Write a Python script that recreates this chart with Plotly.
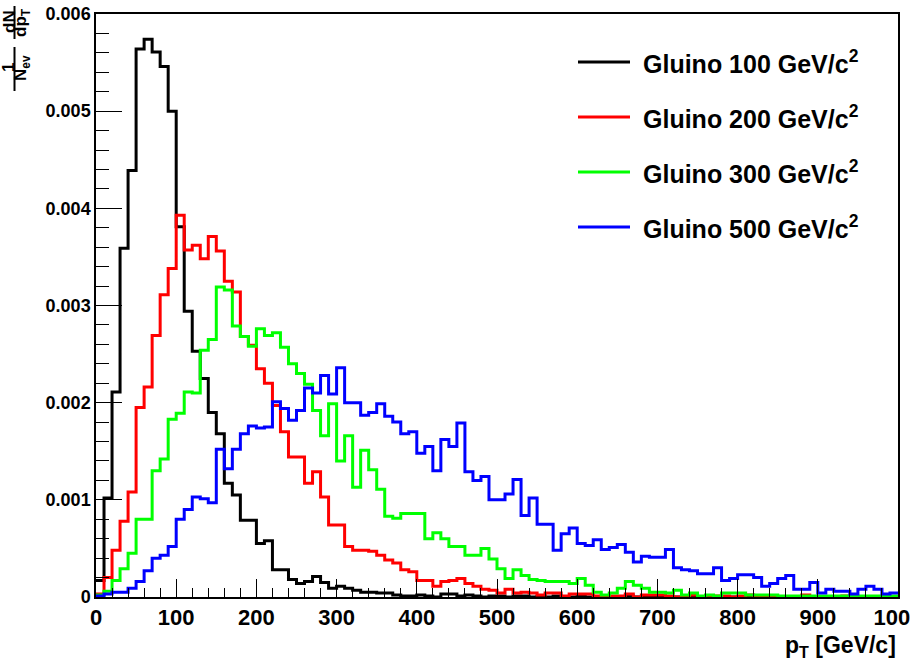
import numpy as np
import plotly.graph_objects as go

# 10 GeV/c bins from 0 to 1000 GeV/c
bin_edges = np.arange(0, 1001, 10)

# Normalised pT spectra, values in units of 1e-3 per bin
gluino_100 = [0.17, 1.02, 2.11, 3.59, 4.39, 5.64, 5.74, 5.61, 5.46, 5.00,
              3.81, 2.94, 2.53, 2.25, 1.90, 1.68, 1.17, 1.05, 0.79, 0.79,
              0.55, 0.58, 0.28, 0.28, 0.18, 0.14, 0.16, 0.21, 0.15, 0.09,
              0.11, 0.09, 0.07, 0.05, 0.05, 0.04, 0.04, 0.02, 0.01, 0.01,
              0.02, 0.01, 0.00, 0.03, 0.03, 0.01, 0.02, 0.01, 0.00, 0.01,
              0.01, 0.00, 0.01, 0.01, 0.00, 0.01, 0.00, 0.01, 0.00, 0.00,
              0.01, 0.00, 0.00, 0.01, 0.00, 0.00, 0.01, 0.00, 0.00, 0.00,
              0.01, 0.00, 0.00, 0.00, 0.00, 0.00, 0.00, 0.00, 0.00, 0.00,
              0.00, 0.00, 0.00, 0.00, 0.00, 0.00, 0.00, 0.00, 0.00, 0.00,
              0.00, 0.00, 0.00, 0.00, 0.00, 0.00, 0.00, 0.00, 0.00, 0.00]

gluino_200 = [0.03, 0.20, 0.48, 0.78, 1.08, 1.95, 2.16, 2.69, 3.11, 3.38,
              3.93, 3.57, 3.62, 3.48, 3.71, 3.56, 3.25, 3.14, 2.68, 2.59,
              2.35, 2.20, 1.97, 1.70, 1.44, 1.44, 1.17, 1.29, 1.03, 0.74,
              0.74, 0.52, 0.48, 0.48, 0.47, 0.43, 0.38, 0.35, 0.28, 0.26,
              0.17, 0.17, 0.11, 0.16, 0.17, 0.19, 0.14, 0.11, 0.08, 0.07,
              0.04, 0.08, 0.04, 0.05, 0.04, 0.02, 0.04, 0.04, 0.01, 0.03,
              0.03, 0.03, 0.01, 0.01, 0.01, 0.01, 0.03, 0.00, 0.02, 0.02,
              0.02, 0.01, 0.00, 0.01, 0.02, 0.00, 0.00, 0.01, 0.01, 0.00,
              0.01, 0.02, 0.01, 0.00, 0.01, 0.00, 0.00, 0.00, 0.02, 0.00,
              0.00, 0.00, 0.00, 0.01, 0.00, 0.00, 0.00, 0.00, 0.00, 0.00]

gluino_300 = [0.02, 0.06, 0.17, 0.29, 0.45, 0.80, 0.80, 1.30, 1.42, 1.83,
              1.89, 2.11, 2.10, 2.54, 2.65, 3.19, 3.16, 2.79, 2.68, 2.58,
              2.76, 2.69, 2.72, 2.57, 2.40, 2.30, 2.19, 1.92, 1.66, 1.99,
              1.40, 1.66, 1.13, 1.51, 1.31, 1.11, 0.83, 0.81, 0.86, 0.86,
              0.86, 0.60, 0.66, 0.60, 0.52, 0.52, 0.43, 0.43, 0.50, 0.39,
              0.29, 0.19, 0.28, 0.22, 0.18, 0.17, 0.16, 0.16, 0.16, 0.14,
              0.19, 0.12, 0.05, 0.02, 0.04, 0.09, 0.16, 0.12, 0.09, 0.05,
              0.05, 0.04, 0.07, 0.02, 0.04, 0.01, 0.02, 0.01, 0.04, 0.04,
              0.04, 0.02, 0.02, 0.02, 0.02, 0.01, 0.01, 0.01, 0.01, 0.01,
              0.01, 0.01, 0.01, 0.01, 0.01, 0.01, 0.01, 0.01, 0.01, 0.01]

gluino_500 = [0.01, 0.03, 0.05, 0.05, 0.09, 0.16, 0.27, 0.40, 0.43, 0.52,
              0.80, 0.90, 1.03, 1.01, 0.97, 1.52, 1.32, 1.52, 1.68, 1.76,
              1.74, 1.75, 2.01, 1.94, 1.82, 1.92, 2.15, 2.10, 2.28, 2.09,
              2.36, 2.00, 2.00, 1.87, 1.90, 1.99, 1.86, 1.80, 1.68, 1.70,
              1.48, 1.55, 1.30, 1.62, 1.55, 1.79, 1.29, 1.20, 1.24, 1.00,
              1.00, 1.06, 1.21, 0.84, 1.02, 0.75, 0.75, 0.48, 0.65, 0.71,
              0.55, 0.53, 0.59, 0.49, 0.51, 0.54, 0.46, 0.36, 0.42, 0.41,
              0.41, 0.49, 0.30, 0.28, 0.27, 0.24, 0.24, 0.30, 0.17, 0.19,
              0.23, 0.23, 0.20, 0.11, 0.14, 0.19, 0.22, 0.08, 0.08, 0.15,
              0.04, 0.08, 0.06, 0.06, 0.03, 0.08, 0.11, 0.08, 0.03, 0.04]

series_names = ["Gluino 100 GeV/c<sup>2</sup>", "Gluino 200 GeV/c<sup>2</sup>",
                "Gluino 300 GeV/c<sup>2</sup>", "Gluino 500 GeV/c<sup>2</sup>"]
series_values = [gluino_100, gluino_200, gluino_300, gluino_500]
series_colors = ["#000000", "#ff0000", "#00ff00", "#0000ff"]

y_tick_values = [0, 0.001, 0.002, 0.003, 0.004, 0.005, 0.006]
y_tick_labels = ["0", "0.001", "0.002", "0.003", "0.004", "0.005", "0.006"]
x_tick_values = [0, 100, 200, 300, 400, 500, 600, 700, 800, 900, 1000]
x_tick_labels = ["0", "100", "200", "300", "400", "500", "600", "700", "800", "900", "1000"]

W, H = 910, 661
ML, MR, MT, MB = 96, 12, 14, 64
PW, PH = W - ML - MR, H - MT - MB
FONT = "Liberation Sans, Arial, Helvetica, sans-serif"


def px_x(px):
    return (px - ML) / PW


def px_y(py):
    return (H - MB - py) / PH


fig = go.Figure()
for name, vals, col in zip(series_names, series_values, series_colors):
    yv = np.array(vals) * 1e-3
    fig.add_trace(go.Scatter(
        x=bin_edges, y=np.append(yv, yv[-1]),
        mode="lines", line=dict(color=col, width=3, shape="hv"),
        name=name, showlegend=False, hoverinfo="skip"))

fig.update_layout(
    width=W, height=H,
    margin=dict(l=ML, r=MR, t=MT, b=MB, autoexpand=False),
    paper_bgcolor="white", plot_bgcolor="white",
    font=dict(family=FONT, color="black"),
    xaxis=dict(
        range=[0, 1000], showgrid=False, zeroline=False, automargin=False,
        showline=True, linecolor="black", linewidth=1.5, mirror=True,
        ticks="inside", ticklen=18, tickwidth=1.2, tickcolor="black",
        tickvals=x_tick_values, ticktext=x_tick_labels,
        ticklabeloverflow="allow",
        tickfont=dict(family=FONT, size=22, weight="bold"),
        minor=dict(dtick=20, ticks="inside", ticklen=9, tickwidth=1.2, tickcolor="black"),
    ),
    yaxis=dict(
        range=[0, 0.006], showgrid=False, zeroline=False, automargin=False,
        showline=True, linecolor="black", linewidth=1.5, mirror=True,
        ticks="inside", ticklen=26, tickwidth=1.2, tickcolor="black",
        tickvals=y_tick_values, ticktext=y_tick_labels,
        tickfont=dict(family=FONT, size=18, weight="bold"),
        minor=dict(dtick=0.0002, ticks="inside", ticklen=13, tickwidth=1.2, tickcolor="black"),
    ),
)

annotations = []
shapes = []

# x-axis title
annotations.append(dict(
    text="<b>p<sub>T</sub> [GeV/c]</b>", xref="paper", yref="paper",
    x=px_x(898), y=px_y(646), xanchor="right", yanchor="middle",
    showarrow=False, font=dict(family=FONT, size=23, color="black")))

# y-axis title written as (1/N_ev)(dN/dp_T), rotated
title_font = dict(family=FONT, size=17, color="black")
for txt, cx, cy in [("<b>dN</b>", 9, 22), ("<b>dp<sub>T</sub></b>", 22, 23),
                    ("<b>1</b>", 9, 68), ("<b>N<sub>ev</sub></b>", 22, 68)]:
    annotations.append(dict(
        text=txt, xref="paper", yref="paper", x=px_x(cx), y=px_y(cy),
        xanchor="center", yanchor="middle", textangle=-90, borderpad=0,
        showarrow=False, font=title_font))
for y0, y1 in [(6, 39), (47, 91)]:
    shapes.append(dict(type="line", xref="paper", yref="paper",
                       x0=px_x(14.5), x1=px_x(14.5), y0=px_y(y0), y1=px_y(y1),
                       line=dict(color="black", width=2)))

# legend entries
for i, (name, col) in enumerate(zip(series_names, series_colors)):
    cy = 62 + 55 * i
    shapes.append(dict(type="line", xref="paper", yref="paper",
                       x0=px_x(578), x1=px_x(630), y0=px_y(cy), y1=px_y(cy),
                       line=dict(color=col, width=3)))
    annotations.append(dict(
        text="<b>" + name + "</b>", xref="paper", yref="paper",
        x=px_x(641), y=px_y(cy), xanchor="left", yanchor="middle",
        showarrow=False, font=dict(family=FONT, size=25, color="black")))

fig.update_layout(annotations=annotations, shapes=shapes)
fig.write_html("out.html")
